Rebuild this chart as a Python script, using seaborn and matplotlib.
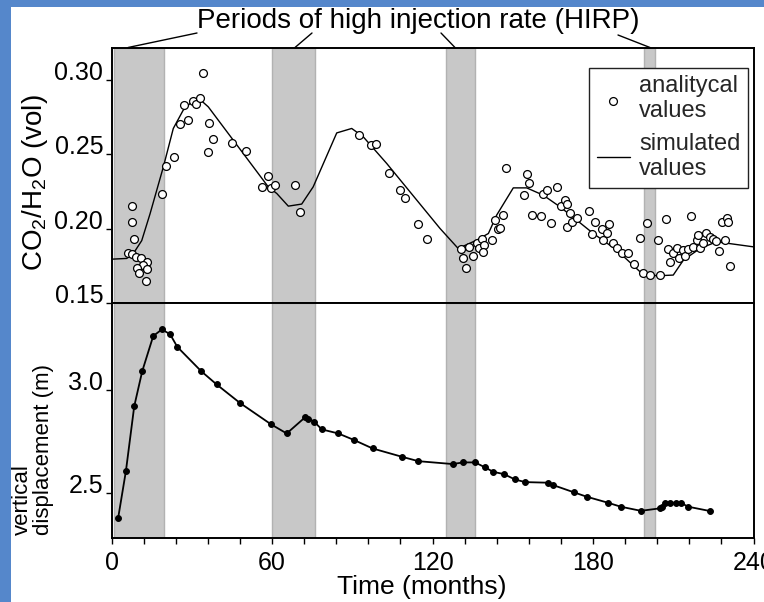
import numpy as np
import pandas as pd
import matplotlib
matplotlib.use('Agg')
import matplotlib.pyplot as plt
import seaborn as sns
from matplotlib.patches import Rectangle
from matplotlib.ticker import FixedLocator, MultipleLocator

# ---------------- data ----------------
hirp_start = [1.0, 60.0, 125.0, 199.0]
hirp_end = [19.5, 76.0, 136.0, 203.0]
leader_x = [6.2, 68.6, 128.4, 201.3]

sim_month = [0, 5.7, 8.2, 11.3, 14.4, 19.4, 23.1, 26.8, 30.6, 33.1, 36.2, 58.6,
             61.8, 66.1, 71.1, 75.4, 84.2, 89.8, 94.1, 102.9, 122.8, 129.6,
             136.5, 140.9, 144.0, 150.2, 155.2, 161.4, 167.7, 173.9, 180.1,
             188.9, 197.6, 203.8, 210.0, 213.8, 220.0, 226.2, 240.0]
sim_ratio = [0.1795, 0.180, 0.1834, 0.192, 0.210, 0.2417, 0.2675, 0.2798, 0.2865,
             0.287, 0.282, 0.2282, 0.2237, 0.2152, 0.2166, 0.2282, 0.2645, 0.2675,
             0.2619, 0.2439, 0.2002, 0.1867, 0.1923, 0.1968, 0.2092, 0.2275,
             0.2275, 0.2226, 0.2147, 0.2058, 0.1968, 0.1856, 0.171, 0.1683,
             0.1688, 0.1789, 0.1867, 0.1912, 0.1878]

obs_month = [7.5, 7.5, 8.5, 6.0, 7.8, 9.0, 10.9, 13.4, 11.9, 9.7, 13.2, 10.4, 12.9,
             18.8, 20.3, 23.4, 25.6, 28.7, 27.2, 30.4, 31.5, 33.1, 34.2, 36.6,
             38.1, 36.0, 44.9, 50.2, 58.6, 56.1, 59.5, 61.1, 68.6, 70.5, 92.6,
             97.0, 98.9, 103.9, 107.9, 109.7, 114.7, 117.8,
             130.5, 131.5, 132.5, 133.8, 135.0, 136.5, 137.5, 138.4, 139.4, 139.0,
             142.1, 143.4, 144.6, 145.2, 146.2, 147.5, 154.2, 155.2, 156.1, 157.3,
             160.6, 161.4, 162.7, 164.2, 166.4, 167.9, 169.5, 170.4, 170.2, 171.4,
             172.0, 173.9, 178.6, 179.5, 180.7, 183.3, 183.9, 186.1, 185.1, 187.6,
             188.9, 190.7, 193.2, 195.3, 197.6, 198.8, 200.1, 201.3, 204.4, 205.0,
             207.3, 208.1, 208.8, 210.0, 211.3, 212.3, 213.5, 214.4, 215.6, 216.6,
             217.5, 218.8, 219.4, 220.0, 221.2, 222.2, 223.7, 225.0, 226.0, 227.2,
             228.1, 229.3, 230.0, 230.6, 231.2]
obs_ratio = [0.2154, 0.2046, 0.1930, 0.1834, 0.1827, 0.1807, 0.1800, 0.1777, 0.1755,
             0.1733, 0.1726, 0.1703, 0.1649, 0.2233, 0.2421, 0.2480, 0.2704, 0.2731,
             0.2836, 0.2859, 0.2843, 0.2879, 0.3049, 0.2713, 0.2605, 0.2515, 0.2578,
             0.2524, 0.2356, 0.2278, 0.2271, 0.2293, 0.2293, 0.2114, 0.2630, 0.2563,
             0.2569, 0.2372, 0.2258, 0.2206, 0.2029, 0.1930,
             0.1861, 0.1800, 0.1737, 0.1878, 0.1816, 0.1902, 0.1868, 0.1929, 0.1890,
             0.1845, 0.1923, 0.2058, 0.1995, 0.2002, 0.2092, 0.2406, 0.2226, 0.2367,
             0.2311, 0.2092, 0.2086, 0.2233, 0.2260, 0.2040, 0.2282, 0.2152, 0.2192,
             0.2165, 0.2013, 0.2103, 0.2046, 0.2069, 0.2120, 0.1962, 0.2046, 0.1995,
             0.1923, 0.2030, 0.1968, 0.1902, 0.1868, 0.1834, 0.1834, 0.1765, 0.1940,
             0.1700, 0.2040, 0.1687, 0.1923, 0.1687, 0.2064, 0.1861, 0.1777, 0.1834,
             0.1868, 0.1800, 0.1857, 0.1816, 0.1861, 0.2086, 0.1878, 0.1923, 0.1957,
             0.1868, 0.1902, 0.1968, 0.1946, 0.1929, 0.1917, 0.1852, 0.2046, 0.1923,
             0.2069, 0.2046, 0.1750]

disp_month = [2.5, 5.4, 8.5, 11.5, 15.6, 18.8, 21.9, 24.6, 33.5, 39.3, 48.0, 59.6,
              65.5, 72.3, 73.6, 75.8, 78.6, 84.8, 90.7, 97.6, 108.7, 114.7, 127.5,
              131.5, 135.9, 139.6, 142.7, 146.7, 150.8, 154.6, 163.3, 165.2, 172.9,
              177.6, 185.7, 190.4, 197.9, 205.0, 205.9, 206.9, 208.8, 210.9, 212.8,
              215.6, 223.7]
disp_value = [2.378, 2.607, 2.922, 3.093, 3.264, 3.296, 3.273, 3.211, 3.093, 3.028,
              2.938, 2.834, 2.789, 2.867, 2.862, 2.846, 2.809, 2.789, 2.757, 2.716,
              2.675, 2.654, 2.640, 2.648, 2.648, 2.624, 2.602, 2.591, 2.565, 2.552,
              2.549, 2.537, 2.502, 2.481, 2.451, 2.432, 2.412, 2.424, 2.432, 2.451,
              2.451, 2.451, 2.451, 2.432, 2.411]

x_ticks = [0, 60, 120, 180, 240]
top_yticks = [0.15, 0.20, 0.25, 0.30]
top_yticklabels = ['0.15', '0.20', '0.25', '0.30']
bot_yticks = [2.5, 3.0]
bot_yticklabels = ['2.5', '3.0']

# ---------------- style ----------------
sns.set_theme(style='white')
plt.rcParams['font.family'] = ['Liberation Sans', 'DejaVu Sans']
plt.rcParams['mathtext.fontset'] = 'custom'
plt.rcParams['mathtext.rm'] = 'Liberation Sans'
plt.rcParams['mathtext.it'] = 'Liberation Sans:italic'
plt.rcParams['mathtext.bf'] = 'Liberation Sans:bold'

W, H = 764, 602
fig = plt.figure(figsize=(W / 100, H / 100), dpi=100, facecolor='#5587cb')
fig.add_artist(Rectangle((11 / W, 0), 1, (H - 7) / H, transform=fig.transFigure,
                         facecolor='white', edgecolor='none', zorder=-10))

ax1 = fig.add_axes([111.5 / W, (H - 303) / H, 642 / W, 255.5 / H])
ax2 = fig.add_axes([111.5 / W, (H - 537.7) / H, 642 / W, 234.7 / H])

for ax in (ax1, ax2):
    for s, e in zip(hirp_start, hirp_end):
        ax.axvspan(s, e, facecolor='#c8c8c8', edgecolor='#b2b2b2', lw=1.0, zorder=0)

sim_df = pd.DataFrame({'month': sim_month, 'ratio': sim_ratio})
obs_df = pd.DataFrame({'month': obs_month, 'ratio': obs_ratio})
disp_df = pd.DataFrame({'month': disp_month, 'disp': disp_value})

sns.lineplot(data=sim_df, x='month', y='ratio', ax=ax1, color='black', lw=1.0,
             sort=False, estimator=None, label='simulated\nvalues', zorder=2)
sns.scatterplot(data=obs_df, x='month', y='ratio', ax=ax1, marker='o', s=32,
                facecolor='white', edgecolor='black', linewidth=0.9,
                label='analitycal\nvalues', zorder=3)
sns.lineplot(data=disp_df, x='month', y='disp', ax=ax2, color='black', lw=1.3,
             sort=False, estimator=None, marker='o', markersize=4.2,
             markeredgecolor='black', markerfacecolor='black', zorder=2)

# axes limits and ticks
ax1.set_xlim(0, 240)
ax2.set_xlim(0, 240)
ax1.set_ylim(0.15, 0.322)
ax2.set_ylim(2.281, 3.425)
ax1.set_yticks(top_yticks)
ax1.set_yticklabels(top_yticklabels)
ax2.set_yticks(bot_yticks)
ax2.set_yticklabels(bot_yticklabels)
ax2.xaxis.set_major_locator(FixedLocator(x_ticks))
ax2.xaxis.set_minor_locator(MultipleLocator(12))
ax2.set_xticklabels([str(v) for v in x_ticks])

for ax in (ax1, ax2):
    ax.set_xlabel('')
    ax.set_ylabel('')
    ax.set_facecolor('white')
    for sp in ax.spines.values():
        sp.set_color('black')
        sp.set_linewidth(1.4)
    ax.tick_params(axis='y', which='both', left=True, direction='out', length=4.5,
                   width=1.0, color='black', labelsize=18, pad=1.5, labelcolor='black')
ax1.tick_params(axis='x', which='both', bottom=False, labelbottom=False)
ax2.tick_params(axis='x', which='both', bottom=True, direction='out', length=4.5,
                width=1.0, color='black', labelsize=18, pad=5, labelcolor='black')

for ax in (ax1, ax2):
    for lbl in ax.get_yticklabels():
        lbl.set_verticalalignment('baseline')

# legend
h, l = ax1.get_legend_handles_labels()
leg = ax1.legend([h[1], h[0]], [l[1], l[0]], loc='upper right',
                 bbox_to_anchor=(0.9907, 0.9198), fontsize=17, frameon=True,
                 fancybox=False, edgecolor='#222222', framealpha=1,
                 borderpad=0.3, labelspacing=0.45, handlelength=1.4,
                 handletextpad=0.4, borderaxespad=0)
leg.get_frame().set_linewidth(1.0)

# title with leader lines
fig.text(418 / W, 1 - 21 / H, 'Periods of high injection rate (HIRP)',
         ha='center', va='center', fontsize=20, color='black')
leader_from = [(197, 33), (312, 33), (441, 33), (618, 35)]
for lx, (fx, fy) in zip(leader_x, leader_from):
    ax1.annotate('', xy=(lx, 1.0), xycoords=('data', 'axes fraction'),
                 xytext=(fx, H - fy), textcoords='figure pixels',
                 arrowprops=dict(arrowstyle='-', color='black', lw=1.0,
                                 shrinkA=0, shrinkB=0),
                 annotation_clip=False)

# axis labels
fig.text(422 / W, 1 - 594 / H, 'Time (months)', ha='center', va='baseline',
         fontsize=19, color='black')
fig.text(35 / W, 1 - 183 / H, r'CO$_2$/H$_2$O (vol)', rotation=90,
         ha='center', va='center', fontsize=20, color='black')
fig.text(33 / W, 1 - 535 / H, 'vertical\ndisplacement (m)', rotation=90,
         ha='center', va='bottom', multialignment='left', fontsize=16,
         linespacing=1.05, color='black')

fig.savefig('out.png', dpi=100)
